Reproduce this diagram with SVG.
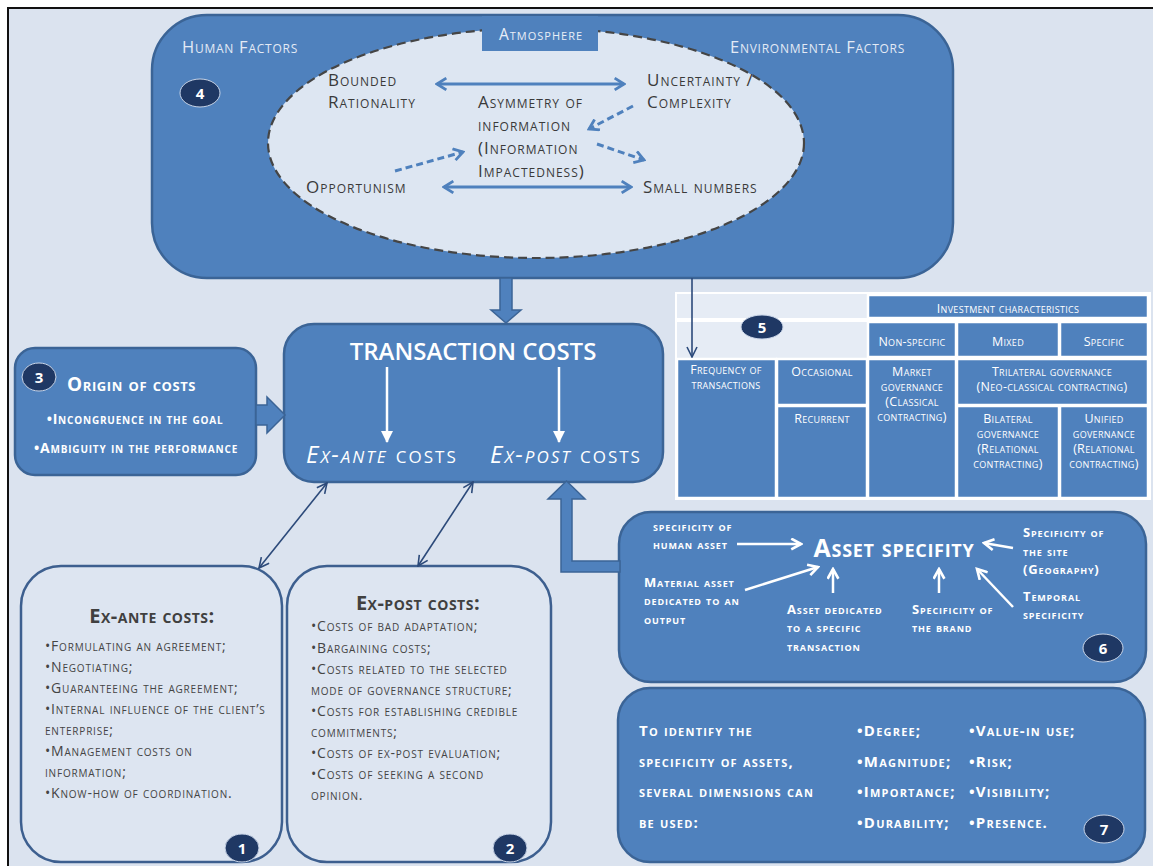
<svg xmlns="http://www.w3.org/2000/svg" width="1153" height="866" viewBox="0 0 1153 866">
<style>
text { font-family: "Open Sans", "Liberation Sans", sans-serif; }
.sc { font-variant: small-caps; }
.box { fill: #4f81bd; stroke: #3b6496; stroke-width: 2.5; }
.lbox { fill: #dde5f1; stroke: #3d5f8f; stroke-width: 2.5; }
.cell { fill: #4f81bd; stroke: #ffffff; stroke-width: 2.5; }
.badge { fill: #1f3864; stroke: #c9d5e8; stroke-width: 1; }
.bn { fill: #ffffff; font-size: 15px; font-weight: bold; text-anchor: middle; }
.el { fill: #3a3a3a; font-size: 17px; letter-spacing: 1px; }
.tb { fill: #ffffff; font-size: 12.5px; text-anchor: middle; letter-spacing: 0.3px; }
.li { fill: #444444; font-size: 14px; letter-spacing: 0.8px; }
.as { fill: #ffffff; font-size: 13px; font-weight: bold; letter-spacing: 0.85px; }
.d7 { fill: #ffffff; font-size: 15px; font-weight: bold; letter-spacing: 1.2px; }
.barr { stroke: #4f81bd; stroke-width: 3; fill: none; }
.dash { stroke: #4f81bd; stroke-width: 3; fill: none; stroke-dasharray: 7 4; }
.navy { stroke: #2c4a7a; stroke-width: 1.6; fill: none; }
.warr { stroke: #ffffff; stroke-width: 2.5; fill: none; }
.block { fill: #4f81bd; stroke: #3b6496; stroke-width: 1.5; }
</style>
<defs>
<marker id="chevB" viewBox="0 0 12 12" refX="10" refY="6" markerWidth="14" markerHeight="14" markerUnits="userSpaceOnUse" orient="auto-start-reverse">
<path d="M2,1 L10,6 L2,11" fill="none" stroke="#4f81bd" stroke-width="2.4" stroke-dasharray="none"/>
</marker>
<marker id="chevN" viewBox="0 0 12 12" refX="11" refY="6" markerWidth="12" markerHeight="12" markerUnits="userSpaceOnUse" orient="auto-start-reverse">
<path d="M1,1 L11,6 L1,11" fill="none" stroke="#2c4a7a" stroke-width="1.6"/>
</marker>
<marker id="triW" viewBox="0 0 12 12" refX="11" refY="6" markerWidth="12" markerHeight="12" markerUnits="userSpaceOnUse" orient="auto">
<path d="M0,0 L12,6 L0,12 Z" fill="#ffffff"/>
</marker>
<marker id="chevW" viewBox="0 0 12 12" refX="10" refY="6" markerWidth="13" markerHeight="13" markerUnits="userSpaceOnUse" orient="auto">
<path d="M1,1 L10,6 L1,11" fill="none" stroke="#ffffff" stroke-width="2.4"/>
</marker>
</defs>

<rect x="0" y="0" width="1153" height="866" fill="#ffffff"/>
<rect x="8" y="8" width="1160" height="880" fill="#dbe3ef" stroke="#111111" stroke-width="2"/>

<g id="node-4-atmosphere">
<rect class="box" x="152" y="15" width="801" height="263" rx="55"/>
<text class="sc" x="182" y="53" font-size="16.5" fill="#e3eaf5" letter-spacing="0.75">Human Factors</text>
<text class="sc" x="730" y="53" font-size="16.5" fill="#e3eaf5" letter-spacing="0.75">Environmental Factors</text>
<ellipse class="badge" cx="200" cy="93" rx="20" ry="14"/>
<text class="bn" x="200" y="99">4</text>
<ellipse cx="536" cy="143" rx="268" ry="115" fill="#dde6f2" stroke="#454545" stroke-width="2.2" stroke-dasharray="9 5"/>
<rect x="482" y="16" width="116" height="35" fill="#4f81bd"/>
<text class="sc" x="541" y="40" font-size="15.5" fill="#e8eef7" text-anchor="middle" letter-spacing="1">Atmosphere</text>
<text class="sc el" x="328" y="86">Bounded</text>
<text class="sc el" x="328" y="108">Rationality</text>
<text class="sc el" x="647" y="86">Uncertainty /</text>
<text class="sc el" x="647" y="108">Complexity</text>
<text class="sc el" x="478" y="108">Asymmetry of</text>
<text class="sc el" x="478" y="131">information</text>
<text class="sc el" x="478" y="154">(Information</text>
<text class="sc el" x="478" y="177">Impactedness)</text>
<text class="sc el" x="306" y="193">Opportunism</text>
<text class="sc el" x="643" y="193">Small numbers</text>
<line class="barr" x1="437" y1="84" x2="624" y2="84" marker-start="url(#chevB)" marker-end="url(#chevB)"/>
<line class="barr" x1="444" y1="187" x2="631" y2="187" marker-start="url(#chevB)" marker-end="url(#chevB)"/>
<line class="dash" x1="633" y1="106" x2="589" y2="129" marker-end="url(#chevB)"/>
<line class="dash" x1="597" y1="144" x2="644" y2="160" marker-end="url(#chevB)"/>
<line class="dash" x1="395" y1="171" x2="463" y2="152" marker-end="url(#chevB)"/>
</g>

<g id="node-5-table">
<rect x="676" y="293" width="474" height="206" fill="#e6ecf5" stroke="#ffffff" stroke-width="2"/>
<line x1="676" y1="320" x2="1150" y2="320" stroke="#ffffff" stroke-width="4"/>
<rect class="cell" x="868" y="295" width="280" height="23"/>
<rect class="cell" x="868" y="322" width="88" height="35"/>
<rect class="cell" x="957" y="322" width="102" height="35"/>
<rect class="cell" x="1060" y="322" width="88" height="35"/>
<rect class="cell" x="677" y="359" width="99" height="139"/>
<rect class="cell" x="777" y="359" width="90" height="46"/>
<rect class="cell" x="777" y="406" width="90" height="92"/>
<rect class="cell" x="868" y="359" width="88" height="139"/>
<rect class="cell" x="957" y="359" width="191" height="46"/>
<rect class="cell" x="957" y="406" width="102" height="92"/>
<rect class="cell" x="1060" y="406" width="88" height="92"/>
<ellipse class="badge" cx="762" cy="327" rx="21" ry="12"/>
<text class="bn" x="762" y="333">5</text>
<text class="sc tb" x="1008" y="313">Investment characteristics</text>
<text class="sc tb" x="912" y="346">Non-specific</text>
<text class="sc tb" x="1008" y="346">Mixed</text>
<text class="sc tb" x="1104" y="346">Specific</text>
<text class="sc tb" x="726" y="374" font-size="11.5">Frequency of</text>
<text class="sc tb" x="726" y="389" font-size="11.5">transactions</text>
<text class="sc tb" x="822" y="376">Occasional</text>
<text class="sc tb" x="822" y="423">Recurrent</text>
<text class="sc tb" x="912" y="376">Market</text>
<text class="sc tb" x="912" y="391">governance</text>
<text class="sc tb" x="912" y="406">(Classical</text>
<text class="sc tb" x="912" y="421">contracting)</text>
<text class="sc tb" x="1052" y="376">Trilateral governance</text>
<text class="sc tb" x="1052" y="391">(Neo-classical contracting)</text>
<text class="sc tb" x="1008" y="423">Bilateral</text>
<text class="sc tb" x="1008" y="438">governance</text>
<text class="sc tb" x="1008" y="453">(Relational</text>
<text class="sc tb" x="1008" y="468">contracting)</text>
<text class="sc tb" x="1104" y="423">Unified</text>
<text class="sc tb" x="1104" y="438">governance</text>
<text class="sc tb" x="1104" y="453">(Relational</text>
<text class="sc tb" x="1104" y="468">contracting)</text>
</g>

<g id="node-transaction-costs">
<rect class="box" x="284" y="324" width="379" height="158" rx="30"/>
<text x="473" y="360" font-size="24" font-weight="600" fill="#ffffff" text-anchor="middle">TRANSACTION COSTS</text>
<line class="warr" x1="387" y1="367" x2="387" y2="442" marker-end="url(#triW)"/>
<line class="warr" x1="559" y1="367" x2="559" y2="442" marker-end="url(#triW)"/>
<text class="sc" x="306" y="463" font-size="24" fill="#ffffff" letter-spacing="2"><tspan font-style="italic">Ex-ante</tspan> costs</text>
<text class="sc" x="490" y="463" font-size="24" fill="#ffffff" letter-spacing="2"><tspan font-style="italic">Ex-post</tspan> costs</text>
</g>

<g id="node-3-origin">
<rect class="box" x="15" y="348" width="241" height="127" rx="20"/>
<ellipse class="badge" cx="39" cy="377" rx="17" ry="14"/>
<text class="bn" x="39" y="383">3</text>
<text class="sc" x="67" y="391" font-size="19" font-weight="bold" fill="#ffffff" letter-spacing="0.6">Origin of costs</text>
<text class="sc" x="135" y="424" font-size="14" font-weight="bold" fill="#ffffff" text-anchor="middle" letter-spacing="0.8">•Incongruence in the goal</text>
<text class="sc" x="136" y="453" font-size="14" font-weight="bold" fill="#ffffff" text-anchor="middle" letter-spacing="0.8">•Ambiguity in the performance</text>
</g>

<g id="node-1-ex-ante">
<rect class="lbox" x="21" y="566" width="261" height="296" rx="40"/>
<text class="sc" x="152" y="623" font-size="20" font-weight="bold" fill="#404040" text-anchor="middle" letter-spacing="0.5">Ex-ante costs:</text>
<text class="sc li" x="45" y="651">•Formulating an agreement;</text>
<text class="sc li" x="45" y="672">•Negotiating;</text>
<text class="sc li" x="45" y="693">•Guaranteeing the agreement;</text>
<text class="sc li" x="45" y="714">•Internal influence of the client’s</text>
<text class="sc li" x="45" y="735">enterprise;</text>
<text class="sc li" x="45" y="756">•Management costs on</text>
<text class="sc li" x="45" y="777">information;</text>
<text class="sc li" x="45" y="798">•Know-how of coordination.</text>
<ellipse class="badge" cx="242" cy="848" rx="17" ry="14"/>
<text class="bn" x="242" y="854">1</text>
</g>

<g id="node-2-ex-post">
<rect class="lbox" x="287" y="566" width="264" height="296" rx="40"/>
<text class="sc" x="418" y="610" font-size="20" font-weight="bold" fill="#404040" text-anchor="middle" letter-spacing="0.5">Ex-post costs:</text>
<text class="sc li" x="311" y="631">•Costs of bad adaptation;</text>
<text class="sc li" x="311" y="653">•Bargaining costs;</text>
<text class="sc li" x="311" y="674">•Costs related to the selected</text>
<text class="sc li" x="311" y="695">mode of governance structure;</text>
<text class="sc li" x="311" y="716">•Costs for establishing credible</text>
<text class="sc li" x="311" y="737">commitments;</text>
<text class="sc li" x="311" y="758">•Costs of ex-post evaluation;</text>
<text class="sc li" x="311" y="779">•Costs of seeking a second</text>
<text class="sc li" x="311" y="800">opinion.</text>
<ellipse class="badge" cx="510" cy="848" rx="17" ry="14"/>
<text class="bn" x="510" y="854">2</text>
</g>

<g id="node-6-asset">
<rect class="box" x="619" y="512" width="527" height="170" rx="32"/>
<text class="sc" x="894" y="557" font-size="25" font-weight="bold" fill="#ffffff" text-anchor="middle" letter-spacing="0.7">Asset specifity</text>
<text class="sc as" x="653" y="531">specificity of</text>
<text class="sc as" x="653" y="549">human asset</text>
<text class="sc as" x="644" y="587">Material asset</text>
<text class="sc as" x="644" y="605">dedicated to an</text>
<text class="sc as" x="644" y="624">output</text>
<text class="sc as" x="787" y="614">Asset dedicated</text>
<text class="sc as" x="787" y="632">to a specific</text>
<text class="sc as" x="787" y="651">transaction</text>
<text class="sc as" x="912" y="614">Specificity of</text>
<text class="sc as" x="912" y="632">the brand</text>
<text class="sc as" x="1023" y="537">Specificity of</text>
<text class="sc as" x="1023" y="556">the site</text>
<text class="sc as" x="1023" y="574">(Geography)</text>
<text class="sc as" x="1023" y="601">Temporal</text>
<text class="sc as" x="1023" y="619">specificity</text>
<ellipse class="badge" cx="1103" cy="648" rx="20" ry="14"/>
<text class="bn" x="1103" y="654">6</text>
</g>

<g id="node-7-dimensions">
<rect class="box" x="618" y="688" width="527" height="174" rx="32"/>
<text class="sc d7" x="639" y="736">To identify the</text>
<text class="sc d7" x="639" y="767">specificity of assets,</text>
<text class="sc d7" x="639" y="797">several dimensions can</text>
<text class="sc d7" x="639" y="828">be used:</text>
<text class="sc d7" x="857" y="736">•Degree;</text>
<text class="sc d7" x="857" y="767">•Magnitude;</text>
<text class="sc d7" x="857" y="797">•Importance;</text>
<text class="sc d7" x="857" y="828">•Durability;</text>
<text class="sc d7" x="969" y="736">•Value-in use;</text>
<text class="sc d7" x="969" y="767">•Risk;</text>
<text class="sc d7" x="969" y="797">•Visibility;</text>
<text class="sc d7" x="969" y="828">•Presence.</text>
<ellipse class="badge" cx="1104" cy="829" rx="20" ry="14"/>
<text class="bn" x="1104" y="835">7</text>
</g>

<g id="connectors">
<polygon class="block" points="500,278 512,278 512,310 521,310 506,323 491,310 500,310"/>
<line class="navy" x1="692" y1="278" x2="692" y2="357" stroke-width="2" marker-end="url(#chevN)"/>
<polygon class="block" points="256,405 267,405 267,397 285,415 267,433 267,425 256,425"/>
<polygon class="block" points="620,561 572,561 572,499 585,499 566.5,481 548,499 561,499 561,572 620,572"/>
<line class="navy" x1="327" y1="483" x2="259" y2="568" marker-start="url(#chevN)" marker-end="url(#chevN)"/>
<line class="navy" x1="473" y1="482" x2="418" y2="566" marker-start="url(#chevN)" marker-end="url(#chevN)"/>
<line class="warr" x1="737" y1="544" x2="801" y2="544" marker-end="url(#chevW)"/>
<line class="warr" x1="745" y1="590" x2="818" y2="567" marker-end="url(#chevW)"/>
<line class="warr" x1="833" y1="593" x2="833" y2="569" marker-end="url(#chevW)"/>
<line class="warr" x1="939" y1="593" x2="939" y2="569" marker-end="url(#chevW)"/>
<line class="warr" x1="1013" y1="548" x2="984" y2="543" marker-end="url(#chevW)"/>
<line class="warr" x1="1013" y1="607" x2="977" y2="569" marker-end="url(#chevW)"/>
</g>
</svg>
